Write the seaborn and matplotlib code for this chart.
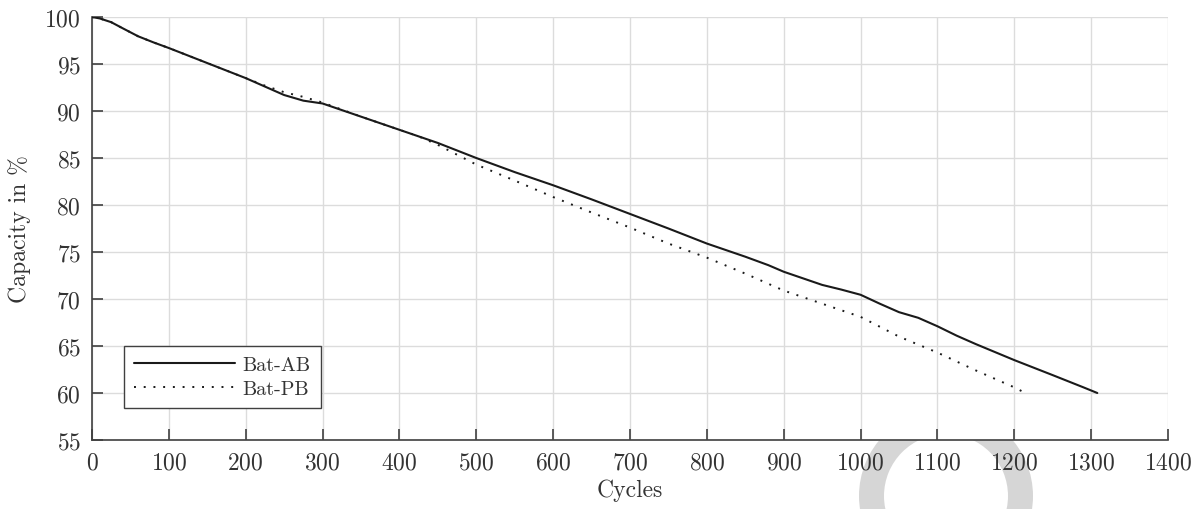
"""Capacity fade of the two battery packs over cycling."""

import matplotlib
matplotlib.use("Agg")
import matplotlib.pyplot as plt
from matplotlib.patches import Wedge
from matplotlib.transforms import IdentityTransform
import pandas as pd
import seaborn as sns

# Bat-AB (solid)
cycles_ab = [0, 10, 25, 40, 60, 80, 100, 150, 200, 225, 250, 275, 300, 350, 400, 450,
             500, 550, 600, 650, 700, 750, 800, 850, 880, 900, 925, 950, 975, 1000,
             1025, 1050, 1075, 1100, 1125, 1150, 1200, 1250, 1290, 1308]
capacity_ab = [100, 99.85, 99.45, 98.8, 97.95, 97.3, 96.7, 95.1, 93.5, 92.6, 91.7, 91.1,
               90.8, 89.4, 88.0, 86.6, 85.0, 83.5, 82.1, 80.6, 79.05, 77.5, 75.9, 74.5,
               73.6, 72.9, 72.2, 71.5, 71.0, 70.45, 69.5, 68.6, 68.0, 67.1, 66.1, 65.2,
               63.5, 61.9, 60.6, 60.0]

# Bat-PB (dotted)
cycles_pb = [0, 10, 25, 40, 60, 80, 100, 150, 200, 225, 250, 275, 300, 350, 400, 425,
             450, 500, 550, 600, 650, 700, 750, 800, 850, 900, 950, 1000, 1050, 1100,
             1150, 1200, 1212]
capacity_pb = [100, 99.85, 99.45, 98.8, 97.95, 97.3, 96.7, 95.1, 93.5, 92.7, 92.0, 91.5,
               90.9, 89.4, 88.0, 87.3, 86.4, 84.3, 82.6, 80.85, 79.2, 77.6, 75.9, 74.4,
               72.7, 70.9, 69.5, 68.1, 66.0, 64.3, 62.4, 60.6, 60.1]

x_ticks = list(range(0, 1401, 100))
y_ticks = list(range(55, 101, 5))

sns.set_theme(style="whitegrid")
plt.rcParams.update({
    "font.family": "serif",
    "font.serif": ["cmr10"],
    "mathtext.fontset": "cm",
    "axes.formatter.use_mathtext": True,
})

df_ab = pd.DataFrame({"cycles": cycles_ab, "capacity": capacity_ab})
df_pb = pd.DataFrame({"cycles": cycles_pb, "capacity": capacity_pb})

fig = plt.figure(figsize=(11.96, 5.10), dpi=100)
ax = fig.add_axes([0.0769, 0.1353, 0.8997, 0.8294])
ax.set_facecolor("white")

sns.lineplot(data=df_ab, x="cycles", y="capacity", ax=ax, color="#1a1a1a",
             linewidth=1.5, label="Bat-AB", zorder=3)
sns.lineplot(data=df_pb, x="cycles", y="capacity", ax=ax, color="#1a1a1a",
             linewidth=1.4, linestyle=(0, (1, 4)), label="Bat-PB", zorder=3)

ax.set_xlim(0, 1400)
ax.set_ylim(55, 100)
ax.set_xticks(x_ticks)
ax.set_yticks(y_ticks)
ax.grid(True, color="#dcdcdc", linewidth=1.0)
ax.set_axisbelow(True)

for side in ("top", "right"):
    ax.spines[side].set_visible(False)
for side in ("left", "bottom"):
    ax.spines[side].set_color("#404040")
    ax.spines[side].set_linewidth(1.2)

ax.tick_params(direction="in", length=8, width=1.2, color="#404040",
               labelsize=17, labelcolor="#333333", pad=8, left=True, bottom=True)

ax.set_xlabel("Cycles", fontsize=17, color="#333333", labelpad=4)
ax.set_ylabel("Capacity in %", fontsize=17, color="#333333", labelpad=10)

leg = ax.legend(loc="upper left", bbox_to_anchor=(0.0297, 0.222), fontsize=14.5,
                handlelength=5.0, frameon=True, fancybox=False, borderpad=0.5,
                labelspacing=0.3, handletextpad=0.4, borderaxespad=0)
leg.get_frame().set_edgecolor("#404040")
leg.get_frame().set_linewidth(1.0)
leg.get_frame().set_alpha(1)
for t in leg.get_texts():
    t.set_color("#333333")

# grey ring of the watermark, mostly hidden behind the axes
ring = Wedge((946, 13), 87, 0, 360, width=25, facecolor="#d6d6d6",
             edgecolor="none", transform=IdentityTransform(), zorder=-1)
fig.add_artist(ring)

fig.savefig("out.png", dpi=100)
